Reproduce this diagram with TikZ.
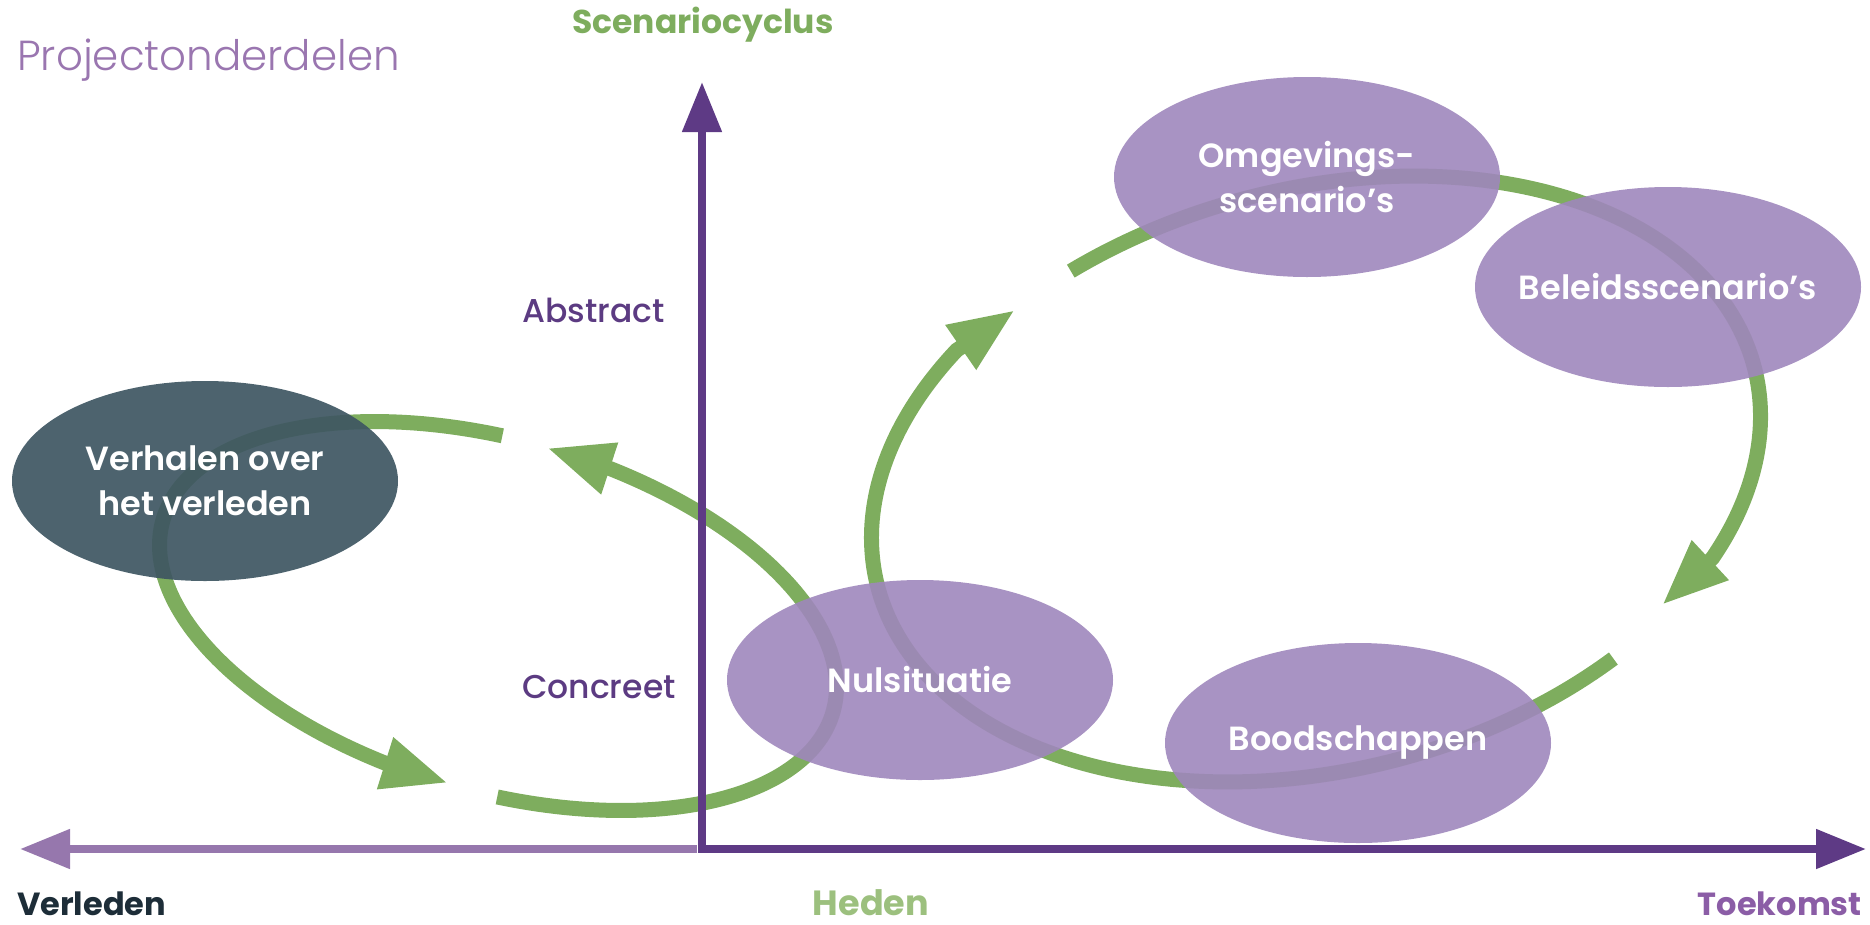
\documentclass[tikz,border=0pt]{standalone}
\usepackage{fontspec}
\setmainfont{Poppins}
\newfontfamily\lightf{Poppins Light}
\newfontfamily\medf{Poppins Medium}
\newfontfamily\semib{Poppins SemiBold}
\usetikzlibrary{arrows.meta,shapes.geometric}
\definecolor{cgreen}{HTML}{7EAD5E}
\definecolor{cbubble}{HTML}{9F87BC}
\definecolor{cslate}{HTML}{3E5662}
\definecolor{cdark}{HTML}{5E3A85}
\definecolor{clight}{HTML}{9677AD}
\definecolor{ctitle}{HTML}{9A76B0}
\definecolor{clabel}{HTML}{5C3B82}
\definecolor{cpast}{HTML}{1D2D38}
\definecolor{cnow}{HTML}{9CC07E}
\definecolor{cfuture}{HTML}{8B5DA6}
\tikzset{
  garrow/.style={draw=cgreen, line width=15pt, -{Triangle[length=66pt,width=50pt]}},
  axisline/.style={line width=8pt, line join=miter},
  bigtip/.tip={Triangle[length=50pt,width=38pt]},
  bubble/.style={ellipse, minimum width=386pt, minimum height=200pt, inner sep=-30pt,
    fill=cbubble, fill opacity=0.9, text opacity=1, text=white,
    font=\semib\fontsize{33.5}{45}\selectfont, align=center},
  lbl/.style={inner sep=0pt},
  axlbl/.style={lbl, font=\bfseries\fontsize{32}{36}\selectfont},
}
\begin{document}
\begin{tikzpicture}[x=1pt,y=-1pt]
\useasboundingbox (0,0) rectangle (1870,924);
% arrow end points
\coordinate (Atip) at (448,783);
\coordinate (Btip) at (547,448);
\coordinate (Dtip) at (1662,605);
\coordinate (Ctip) at (1015,310);
% left cycle
\draw[garrow] plot[domain=262.5:101, samples=120, variable=\t]
  ({498+335.0*cos(\t)-48.48*sin(\t)},{616+96.05*cos(\t)+169.1*sin(\t)}) -- (Atip);
\draw[garrow] plot[domain=81.9:-78.7, samples=120, variable=\t]
  ({498+335.0*cos(\t)-48.48*sin(\t)},{616+96.05*cos(\t)+169.1*sin(\t)}) -- (Btip);
% right cycle
\draw[garrow] plot[domain=-114.5:35.9, samples=150, variable=\t]
  ({1316+439.1*cos(\t)+69.38*sin(\t)},{477-106.6*cos(\t)+285.7*sin(\t)+12*(1-cos(\t-30))*(1-cos(\t-30))/4}) -- (Dtip);
\draw[garrow] plot[domain=57:225, samples=150, variable=\t]
  ({1316+439.1*cos(\t)+69.38*sin(\t)},{477-106.6*cos(\t)+285.7*sin(\t)}) -- (Ctip);
% bubbles
\node[bubble, fill=cslate, fill opacity=0.92] (verhalen) at (205,481) {Verhalen over\\het verleden};
\node[bubble] (nul) at (920,680) {Nulsituatie};
\node[bubble] (omg) at (1307,177) {Omgevings-\\scenario’s};
\node[bubble] (bel) at (1668,287) {Beleidsscenario’s};
\node[bubble] (bood) at (1358,743) {Boodschappen};
% axes
\coordinate (top) at (702,82);
\coordinate (origin) at (702,849);
\coordinate (future) at (1866,849);
\coordinate (leftend) at (697,849);
\coordinate (past) at (20,849);
\draw[axisline, draw=clight, -bigtip] (leftend) -- (past);
\draw[axisline, draw=cdark, bigtip-bigtip] (top) -- (origin) -- (future);
% labels
\node[lbl, anchor=base west, text=ctitle, font=\lightf\fontsize{42}{48}\selectfont] (title) at (17,70) {Projectonderdelen};
\node[lbl, text=cgreen, font=\bfseries\fontsize{33}{38}\selectfont] (cyc) at (703,25) {Scenariocyclus};
\node[lbl, anchor=base west, text=clabel, font=\medf\fontsize{33}{38}\selectfont] (abs) at (522,322) {Abstract};
\node[lbl, anchor=base west, text=clabel, font=\medf\fontsize{33}{38}\selectfont] (con) at (522,698) {Concreet};
\node[axlbl, anchor=base west, text=cpast] (verl) at (17,915) {Verleden};
\node[axlbl, anchor=base, text=cnow, font=\bfseries\fontsize{35}{38}\selectfont] (heden) at (871,915) {Heden};
\node[axlbl, anchor=base east, text=cfuture] (toek) at (1862,915) {Toekomst};
\end{tikzpicture}
\end{document}
